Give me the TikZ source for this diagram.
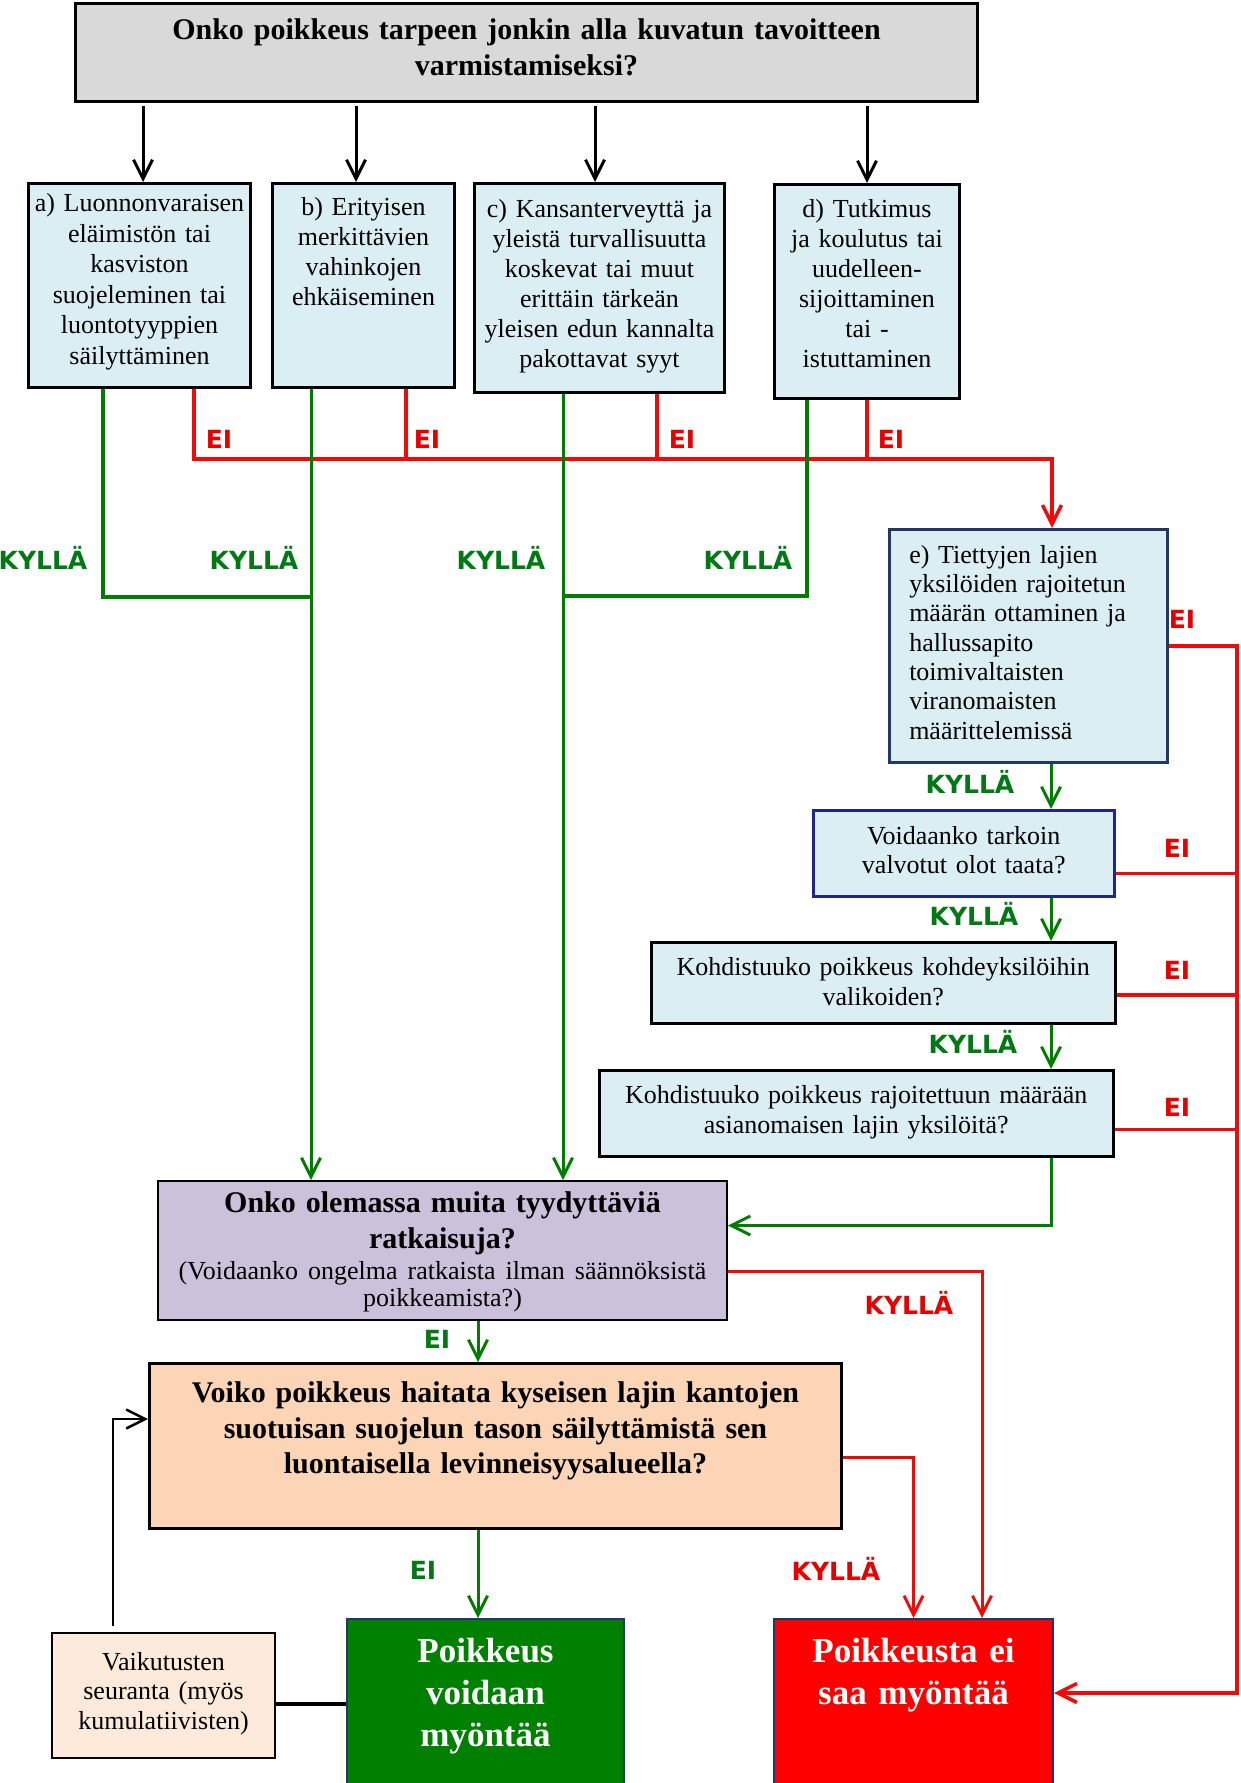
\documentclass[tikz,border=0pt]{standalone}
\usepackage{fontspec}
\setmainfont{Liberation Serif}
\newfontfamily\labfont{DejaVu Sans}
\usetikzlibrary{arrows.meta}

\definecolor{goalblue}{RGB}{219,238,243}
\definecolor{headgray}{RGB}{217,217,217}
\definecolor{altpurple}{RGB}{204,193,218}
\definecolor{fcsorange}{RGB}{251,213,181}
\definecolor{monpeach}{RGB}{253,234,218}
\definecolor{okgreen}{RGB}{0,128,0}
\definecolor{nored}{RGB}{255,0,0}
\definecolor{linegreen}{RGB}{0,125,0}
\definecolor{linered}{RGB}{240,10,10}
\definecolor{labgreen}{RGB}{0,120,20}
\definecolor{labred}{RGB}{230,0,0}
\definecolor{navyline}{RGB}{31,56,100}
\definecolor{qblue}{RGB}{30,40,140}

\tikzset{
  box/.style={draw=black, anchor=north west, inner sep=0pt, align=center},
  dims/.style n args={4}{minimum width=#1, text width=#1, minimum height=#2, text height=#3, text depth=#4},
  body/.style={font=\fontsize{26}{30}\selectfont},
  head/.style={font=\bfseries\fontsize{30}{36}\selectfont},
  goal/.style={box, body, fill=goalblue, line width=3pt},
  lab/.style={font=\labfont\bfseries\fontsize{25}{25}\selectfont, inner sep=0pt},
  yeslab/.style={lab, text=labgreen},
  nolab/.style={lab, text=labred},
  arr/.style={-{Straight Barb[length=19pt,width=19pt]}},
  blk/.style={draw=black, line width=3pt, arr},
  yesline/.style={draw=linegreen, line width=3pt},
  noline/.style={draw=linered, line width=3.5pt},
}

\begin{document}
\begin{tikzpicture}[x=1pt, y=-1pt]
  \useasboundingbox (0,0) rectangle (1240,1783);

  %%% question and the four goals
  \node[box, head, fill=headgray, line width=3pt, dims={902pt}{98pt}{36pt}{62pt}] (ask) at (74,2)
    {Onko poikkeus tarpeen jonkin alla kuvatun tavoitteen\\ varmistamiseksi?};

  \node[goal, dims={222pt}{204pt}{28pt}{176pt}, font=\fontsize{26}{30.5}\selectfont] (a) at (27,182)
    {a) Luonnonvaraisen\\ eläimistön tai\\ kasviston\\ suojeleminen tai\\ luontotyyppien\\ säilyttäminen};
  \node[goal, dims={182pt}{204pt}{32pt}{172pt}] (b) at (271,182)
    {b) Erityisen\\ merkittävien\\ vahinkojen\\ ehkäiseminen};
  \node[goal, dims={250pt}{209pt}{34pt}{175pt}] (c) at (473,182)
    {c) Kansanterveyttä ja\\ yleistä turvallisuutta\\ koskevat tai muut\\ erittäin tärkeän\\ yleisen edun kannalta\\ pakottavat syyt};
  \node[goal, dims={185pt}{214pt}{33pt}{181pt}] (d) at (773,183)
    {d) Tutkimus\\ ja koulutus tai\\ uudelleen-\\ sijoittaminen\\ tai -\\ istuttaminen};

  %%% e) branch
  \node[goal, draw=navyline, line width=2.5pt, align=left, inner xsep=20pt, minimum width=278pt, text width=238pt,
        minimum height=233pt, text height=34pt, text depth=199pt, font=\fontsize{26}{29.3}\selectfont] (e) at (888,528)
    {e) Tiettyjen lajien\\ yksilöiden rajoitetun\\ määrän ottaminen ja\\ hallussapito\\ toimivaltaisten\\ viranomaisten\\ määrittelemissä};
  \node[goal, draw=qblue, line width=2.5pt, dims={301pt}{86pt}{34pt}{52pt}, font=\fontsize{26}{29}\selectfont] (v) at (812,809)
    {Voidaanko tarkoin\\ valvotut olot taata?};
  \node[goal, line width=2.5pt, dims={464pt}{81pt}{33pt}{48pt}] (k1) at (650,941)
    {Kohdistuuko poikkeus kohdeyksilöihin\\ valikoiden?};
  \node[goal, line width=2.5pt, dims={514pt}{86pt}{33pt}{53pt}] (k2) at (598,1069)
    {Kohdistuuko poikkeus rajoitettuun määrään\\ asianomaisen lajin yksilöitä?};

  %%% alternatives and conservation status
  \node[box, fill=altpurple, line width=2pt, dims={569pt}{139pt}{31pt}{108pt}, head] (p) at (157,1180)
    {Onko olemassa muita tyydyttäviä\\ ratkaisuja?\\ \mdseries\fontsize{26}{31}\selectfont (Voidaanko ongelma ratkaista ilman säännöksistä\\[-9pt] poikkeamista?)};
  \node[box, fill=fcsorange, line width=3pt, dims={692pt}{165pt}{39pt}{126pt}, font=\bfseries\fontsize{30}{35.5}\selectfont] (o) at (148,1362)
    {Voiko poikkeus haitata kyseisen lajin kantojen\\ suotuisan suojelun tason säilyttämistä sen\\ luontaisella levinneisyysalueella?};

  %%% outcomes
  \node[box, draw=navyline, fill=okgreen, text=white, line width=2pt, dims={277pt}{170pt}{43pt}{127pt}, font=\bfseries\fontsize{35}{42}\selectfont] (yes) at (346,1618)
    {Poikkeus\\ voidaan\\ myöntää};
  \node[box, draw=navyline, fill=nored, text=white, line width=2pt, dims={279pt}{170pt}{43pt}{127pt}, font=\bfseries\fontsize{35}{42}\selectfont] (no) at (773,1618)
    {Poikkeusta ei\\ saa myöntää};
  \node[box, body, fill=monpeach, line width=2pt, dims={223pt}{125pt}{37pt}{88pt}, font=\fontsize{26}{29.5}\selectfont] (s) at (51,1632)
    {Vaikutusten\\ seuranta (myös\\ kumulatiivisten)};

  %%% helper points
  \coordinate (qa) at (143,106);
  \coordinate (qb) at (356,106);
  \coordinate (qc) at (595,106);
  \coordinate (qd) at (867,106);
  \coordinate (ra) at (194,459);
  \coordinate (rb) at (406,459);
  \coordinate (rc) at (657,459);
  \coordinate (rd) at (867,459);
  \coordinate (bus) at (1052,459);
  \coordinate (ga) at (103,597);
  \coordinate (gb) at (311,597);
  \coordinate (gc) at (563,596);
  \coordinate (gd) at (807,596);
  \coordinate (ecol) at (1051,0);
  \coordinate (rail) at (1237,0);
  \coordinate (mcol) at (478,0);
  \coordinate (pcol) at (982,0);
  \coordinate (vout) at ([yshift=-20pt]v.east);
  \coordinate (k1out) at ([yshift=-12pt]k1.east);
  \coordinate (k2out) at ([yshift=-16pt]k2.east);
  \coordinate (nin) at ([yshift=11pt]no.east);
  \coordinate (pin) at ([yshift=25pt]p.east);
  \coordinate (pout) at ([yshift=-21pt]p.east);
  \coordinate (oout) at ([yshift=-11pt]o.east);
  \coordinate (oin) at ([yshift=27pt]o.west);
  \coordinate (fb) at (113,1626);

  %%% question to goals
  \draw[blk] (qa) -- (qa |- a.north);
  \draw[blk] (qb) -- (qb |- b.north);
  \draw[blk] (qc) -- (qc |- c.north);
  \draw[blk] (qd) -- (qd |- d.north);

  %%% EI from the goals
  \draw[noline, arr] (a.south -| ra) -- (ra) -- (bus) -- (bus |- e.north);
  \draw[noline] (b.south -| rb) -- (rb);
  \draw[noline] (c.south -| rc) -- (rc);
  \draw[noline] (d.south -| rd) -- (rd);
  \node[nolab] (ei1) at (219,439) {EI};
  \node[nolab] (ei2) at (427,439) {EI};
  \node[nolab] (ei3) at (682,439) {EI};
  \node[nolab] (ei4) at (891,439) {EI};

  %%% KYLLÄ from the goals
  \draw[yesline, line width=3.5pt] (a.south -| ga) |- (gb);
  \draw[yesline, arr] (b.south -| gb) -- (p.north -| gb);
  \draw[yesline, arr] (c.south -| gc) -- (p.north -| gc);
  \draw[yesline, line width=3.5pt] (d.south -| gd) |- (gc);
  \node[yeslab] (ky1) at (43,558) {KYLLÄ};
  \node[yeslab] (ky2) at (254,558) {KYLLÄ};
  \node[yeslab] (ky3) at (501,558) {KYLLÄ};
  \node[yeslab] (ky4) at (748,558) {KYLLÄ};

  %%% e) chain
  \draw[yesline, arr] (e.south -| ecol) -- (v.north -| ecol);
  \draw[yesline, arr] (v.south -| ecol) -- (k1.north -| ecol);
  \draw[yesline, arr] (k1.south -| ecol) -- (k2.north -| ecol);
  \draw[yesline, arr] (k2.south -| ecol) |- (pin);
  \node[yeslab] (ky5) at (970,782) {KYLLÄ};
  \node[yeslab] (ky6) at (974,914) {KYLLÄ};
  \node[yeslab] (ky7) at (973,1042) {KYLLÄ};

  \draw[noline, arr] (e.east) -- (e.east -| rail) -- (rail |- nin) -- (nin);
  \draw[noline] (vout) -- (vout -| rail);
  \draw[noline] (k1out) -- (k1out -| rail);
  \draw[noline] (k2out) -- (k2out -| rail);
  \node[nolab] (ei5) at (1182,619) {EI};
  \node[nolab] (ei6) at (1177,848) {EI};
  \node[nolab] (ei7) at (1177,970) {EI};
  \node[nolab] (ei8) at (1177,1107) {EI};

  %%% lower part
  \draw[yesline, arr] (p.south -| mcol) -- (o.north -| mcol);
  \draw[yesline, arr] (o.south -| mcol) -- (yes.north -| mcol);
  \node[yeslab] (ei9) at (437,1339) {EI};
  \node[yeslab] (ei10) at (423,1570) {EI};

  \draw[noline, line width=3pt, arr] (pout) -| (no.north -| pcol);
  \draw[noline, line width=3pt, arr] (oout) -| (no.north);
  \node[nolab] (ky8) at (909,1303) {KYLLÄ};
  \node[nolab] (ky9) at (836,1569) {KYLLÄ};

  \draw[line width=4pt] (s.east |- yes.west) -- (yes.west);
  \draw[blk, line width=2.5pt] (fb) |- (oin);
\end{tikzpicture}
\end{document}
